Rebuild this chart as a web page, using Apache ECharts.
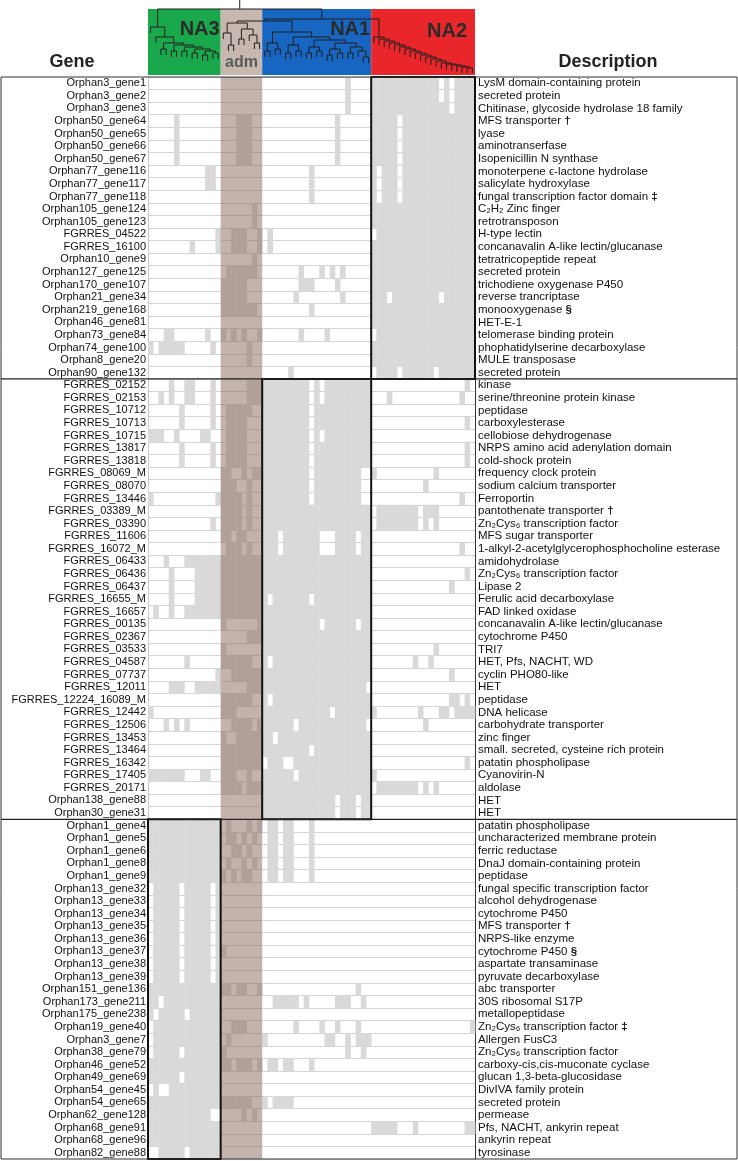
<!DOCTYPE html>
<html><head><meta charset="utf-8">
<script src="https://cdn.jsdelivr.net/npm/echarts@6/dist/echarts.min.js"></script>
<style>html,body{margin:0;padding:0;background:#fff}#c{width:738px;height:1161px}</style>
</head><body><div id="c"></div>
<script>
// ---------------- DATA ----------------
const genes = [
'Orphan3_gene1','Orphan3_gene2','Orphan3_gene3','Orphan50_gene64','Orphan50_gene65','Orphan50_gene66','Orphan50_gene67',
'Orphan77_gene116','Orphan77_gene117','Orphan77_gene118','Orphan105_gene124','Orphan105_gene123','FGRRES_04522','FGRRES_16100',
'Orphan10_gene9','Orphan127_gene125','Orphan170_gene107','Orphan21_gene34','Orphan219_gene168','Orphan46_gene81','Orphan73_gene84',
'Orphan74_gene100','Orphan8_gene20','Orphan90_gene132',
'FGRRES_02152','FGRRES_02153','FGRRES_10712','FGRRES_10713','FGRRES_10715','FGRRES_13817','FGRRES_13818','FGRRES_08069_M',
'FGRRES_08070','FGRRES_13446','FGRRES_03389_M','FGRRES_03390','FGRRES_11606','FGRRES_16072_M','FGRRES_06433','FGRRES_06436',
'FGRRES_06437','FGRRES_16655_M','FGRRES_16657','FGRRES_00135','FGRRES_02367','FGRRES_03533','FGRRES_04587','FGRRES_07737',
'FGRRES_12011','FGRRES_12224_16089_M','FGRRES_12442','FGRRES_12506','FGRRES_13453','FGRRES_13464','FGRRES_16342','FGRRES_17405',
'FGRRES_20171','Orphan138_gene88','Orphan30_gene31',
'Orphan1_gene4','Orphan1_gene5','Orphan1_gene6','Orphan1_gene8','Orphan1_gene9','Orphan13_gene32','Orphan13_gene33','Orphan13_gene34',
'Orphan13_gene35','Orphan13_gene36','Orphan13_gene37','Orphan13_gene38','Orphan13_gene39','Orphan151_gene136','Orphan173_gene211',
'Orphan175_gene238','Orphan19_gene40','Orphan3_gene7','Orphan38_gene79','Orphan46_gene52','Orphan49_gene69','Orphan54_gene45',
'Orphan54_gene65','Orphan62_gene128','Orphan68_gene91','Orphan68_gene96','Orphan82_gene88'
];
const descriptions = [
'LysM domain-containing protein','secreted protein','Chitinase, glycoside hydrolase 18 family','MFS transporter †','lyase',
'aminotranserfase','Isopenicillin N synthase','monoterpene ϵ-lactone hydrolase','salicylate hydroxylase',
'fungal transcription factor domain ‡','C₂H₂ Zinc finger','retrotransposon','H-type lectin','concanavalin A-like lectin/glucanase',
'tetratricopeptide repeat','secreted protein','trichodiene oxygenase P450','reverse trancriptase','monooxygenase §','HET-E-1',
'telomerase binding protein','phophatidylserine decarboxylase','MULE transposase','secreted protein',
'kinase','serine/threonine protein kinase','peptidase','carboxylesterase','cellobiose dehydrogenase','NRPS amino acid adenylation domain',
'cold-shock protein','frequency clock protein','sodium calcium transporter','Ferroportin','pantothenate transporter †',
'Zn₂Cys₆ transcription factor','MFS sugar transporter','1-alkyl-2-acetylglycerophosphocholine esterase','amidohydrolase',
'Zn₂Cys₆ transcription factor','Lipase 2','Ferulic acid decarboxylase','FAD linked oxidase','concanavalin A-like lectin/glucanase',
'cytochrome P450','TRI7','HET, Pfs, NACHT, WD','cyclin PHO80-like','HET','peptidase','DNA helicase','carbohydrate transporter',
'zinc finger','small. secreted, cysteine rich protein','patatin phospholipase','Cyanovirin-N','aldolase','HET','HET',
'patatin phospholipase','uncharacterized membrane protein','ferric reductase','DnaJ domain-containing protein','peptidase',
'fungal specific transcription factor','alcohol dehydrogenase','cytochrome P450','MFS transporter †','NRPS-like enzyme',
'cytochrome P450 §','aspartate transaminase','pyruvate decarboxylase','abc transporter','30S ribosomal S17P','metallopeptidase',
'Zn₂Cys₆ transcription factor ‡','Allergen FusC3','Zn₂Cys₆ transcription factor','carboxy-cis,cis-muconate cyclase',
'glucan 1,3-beta-glucosidase','DivIVA family protein','secreted protein','permease','Pfs, NACHT, ankyrin repeat','ankyrin repeat','tyrosinase'
];
// strain columns holding the gene (0-13 NA3, 14-21 adm, 22-42 NA1, 43-62 NA2)
const presence = [
'38,43-55,57,59-62','38,43-55,57,59-62','38,43-57,59-62',
'5,17-19,36,43-47,49-62','5,17-19,36,43-47,49-62','5,17-19,36,43-47,49-62','5,17-19,36,43-47,49-62',
'11-12,31,43,45-47,49-62','11-12,31,43,45-47,49-62','31,43,45-47,49-62',
'20,43-62','20,43-62','13,16-18,21,23,44-62','8,13,16-18,21,23,43-62','20,43-62',
'15-20,29,33,35,37,43-62','14-18,29-31,36,43-62','14-18,28,37,43-45,47-55,57-62','14-20,31,43-62','43-62',
'3-4,11,14,16,18,21,29,34,44-62','0,2-6,12,19,43-62','19,43-62','27,44-47,49-54,56-62',
'4,7-8,12,19-30,32,34-42,61','2,4,7-8,12,19-30,32,34-42,46,60','6,12,15-19,22-30,32-42','6,12,15-18,22-30,32-42,61',
'0-2,5,10-11,15-18,22-30,32,34-42','6,12,15-18,22-30,32-42,61','6,12,15-18,22-30,32-42,61',
'14-15,18,20-30,32-40,43,55','14-16,19,22-30,32-40,53','0,13-17,19,22-30,32-40,60',
'14-17,19,22-42,44-51,53-55','12,14-17,19,22-42,44-51,53,55',
'14-15,17-18,22-24,26-32,36-39,41-42','15-17,19,22-24,26-32,36-39,41-42,60',
'3,7-42','4,9-42,61','4,9-42,58','4,9-22,24-30,32-42','1,4,7-42',
'14,21-32,34-39,41-42','19-42','14,22-42,55','7,14-19,22,24-42,51,54','13,16-42,58',
'4-6,9-13,19-41','14-19,22,24-42,58-59,61','0,14-16,22-34,36-43,52,56-57,59-62','3,5,7,16-19,21-27,29-41,53',
'14,17-23,25-42','14-30,32-42','14-21,23-25,28-42,61','0-6,10-11,14-16,19,22-27,29-43',
'14-17,19-42,44-51,53,55','22-35,37-39,41-42','22-35,37-39,41-42',
'0-13,15,19,21,23-24,26-27,31','0-13,15-16,18,20,23-24,26-27,31','0-13,16-17,19,23-24,26-27,31',
'0-13,15,18,20,23-24,26-27,31','0-14,16,18-19,23-24,26-27,31',
'1-5,7-11,13','1-5,7-11,13','1-5,7-11,13','1-5,7-11,13','1-5,7-11,13','1-5,7-11,13-14','1-5,7-11,13','1-5,7-11,13',
'0-15,17-18,21,40','0-1,3-13,24-28,30,36-38,41','0,2-6,8-13','1-13,16-18,28,33,36,40,62','1-13,15,22,34-35,38,40-42',
'1-5,7-14,38,41','0-15,17-19,21,23-24,26-27,31','0-5,7-13','1,4-13','0-19,22,24-27','0-11,18,20',
'0-13,43-47,51,61-62','0-13','2-6,8-13'
];
const cladeNames = ['NA3','adm','NA1','NA2'];
const cladeStart = [0,14,22,43];
const cladeEnd   = [13,21,42,62];
const panelFirstRow = [0,24,59];
const panelLastRow  = [23,58,85];
const panelClade    = [3,2,0];
// dendrogram: [height, left, right]; leaves are strain columns
const dendrogram = [64,
  [46, 0, [36, 1, [30, [24, 2, 3], [28, [22, 4, 5], [26, [22, 6, 7], [24, [20, 8, 9], [22, [18, 10, 11], [20, 12, 13]]]]]]]],
  [54,
    [52,
      [50, [40, 14, [28, 15, 16]], [44, [34, 17, 18], [38, 19, [30, 20, 21]]]],
      [41, [30, [22, 22, 23], [24, 24, 25]], [36, [28, [20, 26, 27], [22, 28, 29]], [33, [26, [20, 30, 31], [22, 32, 33]], [30, [24, [18, 34, 35], [20, 36, 37]], [26, [20, 38, 39], [22, 40, [16, 41, 42]]]]]]]
    ],
    [36,43,[34,44,[32,45,[30,46,[28,47,[26,48,[24,49,[22,50,[20,51,[18,52,[16,53,[14,54,[12,55,[10,56,[9,57,[8,58,[7,59,[6,60,[5,61,62]]]]]]]]]]]]]]]]]]]
  ]
];
const nStrains = 63;

// ---------------- BUILD ----------------
const FONT = '"Liberation Sans", Arial, Helvetica, sans-serif';
const cladeColors = ['#1aa84d','#c6b7af','#1766c2','#e9272b'];
const cellData = [];
presence.forEach((s, r) => {
  s.split(',').forEach(part => {
    const ab = part.split('-').map(Number);
    const a = ab[0], b = ab.length > 1 ? ab[1] : ab[0];
    for (let c = a; c <= b; c++) cellData.push([c, r]);
  });
});
const LEAF_LEN = 6;
function lay(n){
  if (typeof n === 'number') return {leaf:true, x:n+0.5};
  const L = lay(n[1]), R = lay(n[2]);
  return {leaf:false, h:n[0], x:(L.x+R.x)/2, L, R};
}
const segs = [];
function walk(n){
  if (n.leaf) return;
  [n.L, n.R].forEach(c => {
    const bottom = c.leaf ? Math.max(n.h - LEAF_LEN, 0) : c.h;
    segs.push([c.x, n.h, c.x, bottom]);
    walk(c);
  });
  segs.push([n.L.x, n.h, n.R.x, n.h]);
}
const root = lay(dendrogram);
walk(root);
segs.push([root.x, root.h, root.x, 73]);

const chart = echarts.init(document.getElementById('c'), null, {renderer:'canvas'});
const option = {
  animation: false,
  backgroundColor: '#fff',
  grid: [
    {left:148, top:77, width:327, height:1082},
    {left:148, top:0, width:327, height:75}
  ],
  xAxis: [
    {type:'category', gridIndex:0, data: Array.from({length:nStrains}, (_, i) => 'S' + i), show:false},
    {type:'value', gridIndex:1, min:0, max:nStrains, show:false}
  ],
  yAxis: [
    {type:'category', gridIndex:0, data: genes, inverse:true,
     axisTick:{show:false}, axisLine:{show:true, lineStyle:{color:'#c8c8c8'}},
     splitLine:{show:true, lineStyle:{color:'#d4d4d4', width:1}},
     axisLabel:{interval:0, fontSize:11, color:'#111', margin:2, fontFamily:FONT}},
    {type:'category', gridIndex:0, position:'right', data: descriptions.map((d, i) => String(i)), inverse:true,
     axisTick:{show:false}, axisLine:{show:true, lineStyle:{color:'#333'}}, splitLine:{show:false},
     axisLabel:{interval:0, margin:3, fontSize:11.5, color:'#111', fontFamily:FONT, align:'left',
       formatter:(v, i) => descriptions[+v].replace(/([†‡§])/g, '{b|$1}'),
       rich:{b:{fontWeight:'bold', fontSize:11.5, color:'#111', fontFamily:FONT}}}},
    {type:'value', gridIndex:1, min:-2, max:73, show:false}
  ],
  graphic: [
    {type:'rect', shape:{x:1, y:77, width:736, height:1082}, style:{fill:null, stroke:'#333', lineWidth:1}, z:100},
    {type:'text', x:72, y:62, style:{text:'Gene', font:'bold 18px ' + FONT, fill:'#222', align:'center', verticalAlign:'middle'}},
    {type:'text', x:608, y:62, style:{text:'Description', font:'bold 18px ' + FONT, fill:'#222', align:'center', verticalAlign:'middle'}}
  ],
  series: [
    {type:'custom', name:'cells', xAxisIndex:0, yAxisIndex:0, z:2, data:cellData, silent:true,
     renderItem(params, api){
       const p = api.coord([api.value(0), api.value(1)]);
       const s = api.size([1, 1]);
       return {type:'rect', shape:{x:p[0]-s[0]/2, y:p[1]-s[1]/2, width:s[0]+0.4, height:s[1]+0.4},
               style:{fill:'#d9d9d9'}};
     }},
    {type:'custom', name:'adm', xAxisIndex:0, yAxisIndex:0, z:3, silent:true,
     data:[[cladeStart[1], 0, cladeEnd[1], genes.length-1]],
     renderItem(params, api){
       const s = api.size([1, 1]);
       const p0 = api.coord([api.value(0), api.value(1)]), p1 = api.coord([api.value(2), api.value(3)]);
       return {type:'rect', shape:{x:p0[0]-s[0]/2, y:p0[1]-s[1]/2, width:p1[0]-p0[0]+s[0], height:p1[1]-p0[1]+s[1]},
               style:{fill:'rgba(138,104,92,0.5)'}};
     }},
    {type:'custom', name:'panels', xAxisIndex:0, yAxisIndex:0, z:5, silent:true,
     data: panelFirstRow.map((f, i) => [cladeStart[panelClade[i]], f, cladeEnd[panelClade[i]], panelLastRow[i]]),
     renderItem(params, api){
       const s = api.size([1, 1]);
       const p0 = api.coord([api.value(0), api.value(1)]), p1 = api.coord([api.value(2), api.value(3)]);
       const x0 = p0[0]-s[0]/2, y0 = p0[1]-s[1]/2, x1 = p1[0]+s[0]/2, y1 = p1[1]+s[1]/2;
       const ch = [{type:'rect', shape:{x:x0, y:y0, width:x1-x0, height:y1-y0}, style:{fill:null, stroke:'#111', lineWidth:2}}];
       if (api.value(1) > 0) ch.push({type:'line', shape:{x1:1, y1:y0, x2:737, y2:y0}, style:{stroke:'#222', lineWidth:1.3}});
       return {type:'group', children:ch};
     }},
    {type:'custom', name:'blocks', xAxisIndex:1, yAxisIndex:2, z:1, silent:true,
     data: cladeNames.map((n, i) => [cladeStart[i], 64, cladeEnd[i]+1, -2, i]),
     renderItem(params, api){
       const p0 = api.coord([api.value(0), api.value(1)]), p1 = api.coord([api.value(2), api.value(3)]);
       return {type:'rect', shape:{x:p0[0], y:p0[1], width:p1[0]-p0[0], height:p1[1]-p0[1]},
               style:{fill:cladeColors[api.value(4)]}};
     }},
    {type:'custom', name:'tree', xAxisIndex:1, yAxisIndex:2, z:3, silent:true, data:segs,
     renderItem(params, api){
       const a = api.coord([api.value(0), api.value(1)]), b = api.coord([api.value(2), api.value(3)]);
       return {type:'line', shape:{x1:a[0], y1:a[1], x2:b[0], y2:b[1]}, style:{stroke:'#1e1e1e', lineWidth:1}};
     }},
    {type:'custom', name:'labels', xAxisIndex:1, yAxisIndex:2, z:4, silent:true,
     data: cladeNames.map((n, i) => [cladeStart[i], cladeEnd[i]+1, i]),
     renderItem(params, api){
       const i = api.value(2);
       const a = api.coord([api.value(0), 0]), b = api.coord([api.value(1), 0]);
       if (i === 1) {
         const y = api.coord([0, 10])[1];
         return {type:'text', x:(a[0]+b[0])/2, y:y, style:{text:cladeNames[i], font:'bold 16px ' + FONT, fill:'#5a5a5a', align:'center', verticalAlign:'middle'}};
       }
       const y = api.coord([0, i === 3 ? 42 : 44])[1];
       return {type:'text', x:b[0] - (i === 3 ? 8 : 1), y:y, style:{text:cladeNames[i], font:'bold 20px ' + FONT, fill:'#2a2a2a', align:'right', verticalAlign:'middle'}};
     }}
  ]
};
chart.setOption(option);
</script></body></html>
